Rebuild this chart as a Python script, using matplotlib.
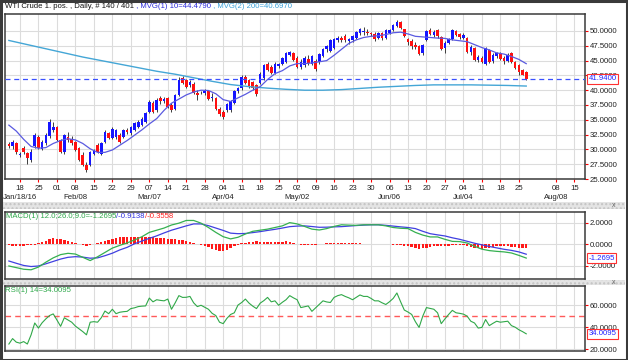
import numpy as np
import matplotlib
matplotlib.use("Agg")
import matplotlib.pyplot as plt
import matplotlib.transforms as mtransforms
from matplotlib.patches import Rectangle

plt.rcParams['font.family'] = ['Liberation Sans', 'DejaVu Sans']

# ---- daily bars, WTI Crude 1. pos. (Jan 13 .. Jul 27 2016, weekdays) ----
opens = [
    30.9, 30.5, 31.1,
    29.0, 30.2, 29.4, 28.2, 30.5,
    32.1, 30.1, 31.0, 32.2, 33.3,
    33.8, 31.6, 29.6, 32.1, 31.8,
    31.3, 30.2, 29.1, 27.4, 27.4,
    29.2, 30.7, 29.3, 31.3, 32.7,
    31.9, 32.1, 32.4, 32.1, 33.2,
    32.7, 33.3, 33.8, 34.1, 34.7,
    36.4, 37.8, 36.6, 38.6, 38.1,
    38.6, 37.5, 36.9, 39.2, 42.0,
    41.7, 40.8, 41.0, 39.6, 39.5,
    39.6, 39.9, 38.7, 38.6, 36.9,
    36.4, 36.6, 36.6, 37.8, 39.8,
    40.3, 42.3, 41.7, 41.4, 40.9,
    41.2, 42.0, 44.5, 44.0, 42.9,
    44.1, 44.5, 44.8, 46.0, 46.2,
    45.5, 44.0, 44.2, 45.3, 44.5,
    45.0, 44.7, 45.8, 46.9, 46.7,
    47.2, 48.4, 48.9, 49.2, 48.3,
    48.4, 48.9, 49.6, 49.8, 49.9,
    49.6, 49.5, 48.8, 49.6, 48.9,
    49.7, 50.2, 50.9, 51.5, 50.3,
    48.6, 48.3, 47.6, 47.4, 46.2,
    48.5, 50.2, 49.4, 50.1, 49.0,
    47.2, 48.0, 48.6, 50.0, 49.5,
    48.9, 48.8, 46.4, 47.1, 45.1,
    45.4, 44.5, 46.8, 44.9, 45.7,
    46.2, 45.5, 45.0, 46.2, 44.8,
    44.2, 43.4, 43.1,
]
highs = [
    31.3, 31.6, 31.3,
    29.5, 30.5, 29.6, 30.0, 32.7,
    32.4, 31.6, 32.7, 35.1, 34.6,
    34.0, 31.8, 32.6, 33.0, 32.2,
    31.5, 30.4, 29.5, 27.8, 29.8,
    30.1, 31.0, 31.2, 33.2, 33.0,
    33.8, 33.5, 32.8, 33.4, 33.6,
    34.0, 34.6, 35.0, 35.4, 36.3,
    38.3, 38.1, 38.6, 39.0, 38.8,
    38.8, 37.8, 39.4, 42.2, 42.4,
    41.9, 41.8, 41.4, 40.1, 39.9,
    40.2, 40.1, 39.6, 38.9, 37.1,
    36.6, 37.9, 38.3, 40.0, 40.5,
    42.5, 42.6, 41.9, 41.6, 41.1,
    43.0, 44.5, 44.8, 44.3, 44.7,
    44.6, 45.6, 46.4, 46.7, 46.5,
    45.8, 45.2, 45.8, 45.9, 46.0,
    45.3, 46.3, 47.2, 47.6, 48.6,
    48.8, 49.2, 49.2, 49.5, 48.9,
    49.3, 50.0, 50.5, 50.6, 50.3,
    49.9, 49.8, 49.9, 49.8, 50.3,
    50.4, 51.2, 51.9, 51.7, 50.4,
    48.9, 48.6, 48.2, 47.6, 47.8,
    50.2, 50.5, 50.2, 50.4, 49.2,
    48.3, 48.8, 50.4, 50.2, 49.7,
    49.6, 49.0, 47.6, 47.3, 45.9,
    45.7, 47.3, 47.0, 46.3, 46.4,
    46.4, 45.8, 46.2, 46.4, 45.0,
    44.5, 43.6, 43.3,
]
lows = [
    30.2, 30.0, 29.3,
    28.8, 29.3, 27.6, 27.9, 30.3,
    30.0, 29.9, 30.7, 31.9, 33.0,
    31.4, 29.4, 29.3, 31.3, 30.8,
    29.7, 28.0, 27.2, 26.1, 27.2,
    29.0, 29.4, 29.0, 31.0, 31.7,
    31.7, 31.8, 31.0, 31.9, 32.6,
    32.5, 33.1, 33.6, 33.9, 34.5,
    36.2, 36.1, 36.3, 37.6, 37.8,
    37.0, 36.4, 36.7, 39.0, 41.0,
    40.4, 40.6, 39.3, 38.4, 39.3,
    39.2, 38.3, 38.2, 36.6, 35.7,
    35.2, 36.3, 36.4, 37.6, 39.5,
    40.1, 41.0, 40.4, 40.1, 39.0,
    41.0, 41.8, 43.2, 42.7, 42.7,
    43.7, 44.3, 44.6, 45.8, 44.9,
    43.7, 43.5, 43.9, 44.2, 44.3,
    43.3, 44.5, 45.6, 46.5, 46.4,
    47.0, 48.1, 48.2, 48.2, 47.8,
    48.2, 48.7, 49.3, 49.4, 49.3,
    49.2, 48.3, 48.6, 48.5, 48.7,
    49.5, 50.0, 50.6, 50.3, 49.0,
    47.6, 47.0, 46.9, 45.9, 46.0,
    48.3, 49.3, 49.0, 48.9, 46.8,
    46.2, 47.8, 48.4, 49.1, 48.7,
    48.7, 46.3, 45.9, 44.9, 44.7,
    44.6, 44.3, 44.6, 44.6, 45.4,
    45.1, 44.5, 44.8, 44.6, 43.5,
    42.5, 42.5, 41.8,
]
closes = [
    30.6, 31.2, 29.6,
    29.2, 29.6, 28.5, 29.6, 32.4,
    30.2, 31.3, 32.4, 34.7, 33.8,
    31.6, 29.6, 32.4, 31.6, 31.0,
    29.9, 28.2, 27.4, 26.5, 29.6,
    29.8, 29.6, 31.0, 33.0, 31.9,
    33.5, 33.2, 31.3, 33.2, 32.9,
    33.8, 34.4, 34.7, 35.2, 36.1,
    38.0, 36.4, 38.3, 38.1, 38.5,
    37.2, 36.6, 39.2, 41.8, 41.2,
    40.6, 41.4, 39.6, 39.2, 39.6,
    39.9, 38.5, 38.9, 36.8, 35.9,
    35.5, 37.7, 38.1, 39.8, 40.3,
    42.3, 41.2, 40.6, 40.3, 39.3,
    42.8, 44.3, 43.4, 42.9, 44.5,
    44.4, 45.4, 46.2, 46.5, 45.1,
    43.9, 44.8, 45.4, 44.6, 45.7,
    43.6, 46.1, 47.0, 47.4, 48.4,
    48.6, 48.9, 48.4, 48.4, 48.6,
    49.2, 49.8, 50.3, 50.0, 49.6,
    49.5, 48.7, 49.6, 48.8, 50.1,
    50.2, 51.0, 51.6, 50.5, 49.2,
    48.2, 47.5, 47.3, 46.1, 47.6,
    50.0, 49.5, 49.9, 49.2, 47.0,
    47.9, 48.6, 50.2, 49.3, 49.0,
    49.3, 46.5, 47.3, 45.1, 45.6,
    44.8, 47.1, 44.8, 45.9, 46.2,
    45.3, 44.9, 45.9, 44.8, 43.7,
    43.0, 42.6, 41.94,
]
last_price = 41.94

# moving averages, read every 2 bars (MVG 10) / every 5 bars (MVG 200)
ma10_bars = list(range(0, 141, 2))
ma10 = [34.1, 33.1, 31.7, 30.5, 30.2, 30.3, 31.0, 31.5, 31.8, 31.6,
        31.0, 30.1, 29.5, 29.5, 29.9, 30.7, 31.5, 32.4, 33.3, 34.3,
        35.2, 36.6, 37.8, 38.5, 39.2, 39.7, 40.0, 39.95, 39.4, 38.4,
        38.1, 38.7, 39.3, 40.0, 40.6, 41.8, 42.8, 43.3, 44.1, 44.5,
        44.5, 44.6, 44.8, 45.0, 45.9, 46.9, 47.9, 48.5, 48.9, 49.1,
        49.2, 49.4, 49.7, 49.8, 49.5, 49.1, 49.0, 48.9, 48.8, 48.75,
        48.5, 48.35, 48.2, 47.7, 47.2, 46.8, 46.3, 46.1, 45.7, 45.2,
        44.48]
ma200_bars = list(range(0, 141, 5))
ma200 = [48.4, 47.7, 47.0, 46.3, 45.6, 45.0, 44.4, 43.8, 43.2, 42.7,
         42.1, 41.5, 40.95, 40.6, 40.35, 40.15, 40.0, 40.0, 40.1, 40.3,
         40.5, 40.65, 40.8, 40.9, 40.9, 40.9, 40.85, 40.8, 40.7]

# MACD(12,26,9): line and signal every 2 bars, histogram every bar
macd_bars = list(range(0, 141, 2))
macd_line = [-2.0, -2.15, -2.3, -2.35, -2.1, -1.65, -1.25, -0.95, -0.83, -0.9,
             -1.2, -1.5, -1.15, -0.75, -0.35, -0.1, 0.13, 0.4, 0.7, 1.1,
             1.3, 1.5, 1.78, 1.95, 2.2, 2.2, 1.95, 1.55, 1.1, 0.7,
             0.5, 0.65, 0.95, 1.2, 1.3, 1.4, 1.55, 1.7, 2.0, 1.88,
             1.65, 1.4, 1.32, 1.45, 1.65, 1.8, 1.77, 1.75, 1.8, 1.8,
             1.8, 1.7, 1.55, 1.48, 1.45, 1.1, 0.85, 0.68, 0.68, 0.46,
             0.27, 0.25, 0.12, -0.18, -0.45, -0.58, -0.65, -0.7, -0.8, -1.02,
             -1.2695]
macd_signal = [-1.54, -1.75, -1.95, -2.05, -2.0, -1.8, -1.58, -1.36, -1.2, -1.14,
               -1.18, -1.28, -1.25, -1.05, -0.82, -0.52, -0.28, 0.05, 0.3, 0.55,
               0.78, 1.05, 1.3, 1.5, 1.7, 1.88, 1.88, 1.72, 1.5, 1.28,
               1.03, 0.98, 1.0, 1.08, 1.17, 1.28, 1.38, 1.5, 1.63, 1.68,
               1.7, 1.64, 1.57, 1.58, 1.61, 1.63, 1.68, 1.73, 1.77, 1.8,
               1.8, 1.75, 1.68, 1.61, 1.55, 1.45, 1.2, 0.98, 0.87, 0.77,
               0.6, 0.46, 0.28, 0.1, -0.05, -0.2, -0.33, -0.46, -0.56, -0.7,
               -0.9138]
macd_hist = [-0.1, -0.12, -0.15, -0.15, -0.12, -0.1, -0.08, -0.05, 0.1, 0.2,
             0.35, 0.5, 0.55, 0.5, 0.45, 0.4, 0.3, 0.25, 0.15, 0.05,
             -0.05, -0.12, -0.1, 0.05, 0.15, 0.2, 0.3, 0.4, 0.5, 0.6,
             0.65, 0.68, 0.7, 0.7, 0.68, 0.7, 0.68, 0.65, 0.7, 0.68,
             0.62, 0.6, 0.55, 0.5, 0.48, 0.45, 0.42, 0.4, 0.32, 0.25,
             0.15, 0.05, -0.05, -0.15, -0.25, -0.4, -0.5, -0.6, -0.62, -0.5,
             -0.35, -0.2, -0.05, 0.08, 0.15, 0.2, 0.25, 0.28, 0.25, 0.22,
             0.2, 0.22, 0.25, 0.22, 0.25, 0.28, 0.25, 0.15, 0.05, -0.05,
             -0.08, -0.1, -0.08, -0.05, 0.0, 0.05, 0.08, 0.1, 0.12, 0.12,
             0.15, 0.12, 0.1, 0.1, 0.08, 0.08, 0.05, 0.05, 0.05, 0.03,
             0.03, 0.02, 0.02, 0.0, -0.02, -0.05, -0.1, -0.15, -0.2, -0.25,
             -0.35, -0.4, -0.35, -0.3, -0.25, -0.2, -0.15, -0.2, -0.2, -0.15,
             -0.1, -0.05, -0.05, -0.1, -0.15, -0.25, -0.3, -0.35, -0.4, -0.35,
             -0.3, -0.25, -0.2, -0.2, -0.18, -0.2, -0.22, -0.25, -0.3, -0.32,
             -0.3558]

# RSI(14), every bar
rsi = [24.8, 29.7, 26.5, 25.6, 27.0, 24.8, 33.0, 43.8, 39.2, 44.0,
       47.5, 50.5, 52.0, 46.5, 40.8, 48.5, 46.5, 44.5, 41.0, 38.5,
       36.0, 33.1, 44.5, 45.0, 44.5, 48.5, 54.6, 52.2, 56.2, 52.2,
       53.5, 54.0, 54.3, 56.8, 57.5, 58.6, 59.0, 59.2, 66.3, 62.9,
       64.8, 64.2, 63.8, 65.4, 56.2, 62.0, 68.5, 66.9, 67.0, 67.8,
       62.0, 58.6, 59.8, 58.0, 56.2, 52.5, 50.5, 44.5, 43.2, 48.0,
       51.5, 53.0, 60.0, 62.3, 65.4, 61.7, 59.0, 56.8, 61.7, 64.0,
       66.9, 62.9, 63.8, 59.8, 62.5, 64.8, 68.5, 66.5, 64.8, 57.7,
       58.5, 59.2, 54.3, 57.5, 60.8, 63.8, 62.8, 62.3, 66.9, 68.5,
       69.4, 67.8, 66.5, 64.8, 67.0, 69.1, 67.8, 67.8, 66.0, 63.8,
       63.8, 62.0, 60.5, 63.0, 66.0, 70.9, 63.0, 55.5, 53.7, 51.5,
       45.0, 39.8, 50.0, 57.7, 57.0, 56.2, 53.0, 43.2, 47.5, 51.5,
       55.2, 53.0, 52.5, 51.8, 50.0, 45.4, 43.8, 39.2, 39.8, 46.9,
       41.4, 43.5, 45.4, 44.5, 45.0, 45.4, 41.4, 40.0, 37.7, 36.0,
       34.0095]

# weekly axis labels (Mondays, one bar per weekday), month labels below
week_bars = [3, 8, 13, 18, 23, 28, 33, 38, 43, 48, 53, 58, 63, 68, 73, 78,
             83, 88, 93, 98, 103, 108, 113, 118, 123, 128, 133, 138, 148, 153]
week_labels = ["18", "25", "01", "08", "15", "22", "29", "07", "14", "21",
               "28", "04", "11", "18", "25", "02", "09", "16", "23", "30",
               "06", "13", "20", "27", "04", "11", "18", "25", "08", "15"]
month_bars = [3, 18, 38, 58, 78, 103, 123, 148]
month_labels = ["Jan/18/16", "Feb/08", "Mar/07", "Apr/04", "May/02",
                "Jun/06", "Jul/04", "Aug/08"]

W, H = 628, 360
FS = 5.6
UP, DOWN = "#1515ff", "#ff1010"
GRID = "#dcdcdc"

fig = plt.figure(figsize=(W / 100, H / 100), dpi=100)
fig.patch.set_facecolor("white")


def panel(left, top, right, bottom):
    a = fig.add_axes([left / W, 1 - bottom / H, (right - left) / W, (bottom - top) / H])
    a.set_facecolor("white")
    for s in a.spines.values():
        s.set_color("#3a3a3a")
        s.set_linewidth(1.1)
    a.yaxis.tick_right()
    a.tick_params(axis="y", direction="out", length=2.5, width=0.8, color="red",
                  labelcolor="#222222", labelsize=FS, pad=1)
    a.set_xlim(-1.05, 155.9)
    a.set_xticks(week_bars)
    a.grid(True, color=GRID, linewidth=0.8)
    a.set_axisbelow(True)
    return a


def value_box(a, y, text):
    tr = mtransforms.blended_transform_factory(a.transAxes, a.transData)
    a.text(1.006, y, text, transform=tr, fontsize=FS, color="#2020ff",
           ha="left", va="center", zorder=10,
           bbox=dict(boxstyle="square,pad=0.18", fc="white", ec="#ff3030", lw=0.8))


def colored_line(x_px, y_px, parts):
    renderer = fig.canvas.get_renderer()
    x = x_px
    for s, c in parts:
        t = fig.text(x / W, 1 - y_px / H, s, color=c, fontsize=FS, ha="left", va="center")
        x += t.get_window_extent(renderer).width


bars = np.arange(len(closes))
o = np.array(opens)
c = np.array(closes)
colors = [UP if cc >= oo else DOWN for oo, cc in zip(o, c)]

# ---- price panel ----
ax = panel(5, 14, 585, 179)
ax.set_ylim(25, 52.87)
ax.set_yticks(np.arange(25, 50.1, 2.5))
ax.yaxis.set_major_formatter(matplotlib.ticker.FormatStrFormatter("%.4f"))
ax.set_xticklabels(week_labels)
ax.tick_params(axis="x", direction="out", length=2.5, width=0.8, color="red",
               labelcolor="#222222", labelsize=FS, pad=1.5)

ax.vlines(bars, lows, highs, color="#3c3c3c", linewidth=0.7, zorder=2)
ax.bar(bars, np.abs(c - o), bottom=np.minimum(o, c), width=0.7, color=colors,
       linewidth=0, zorder=3)
ax.plot(ma200_bars, ma200, color="#44a6d6", linewidth=1.0, zorder=4)
ax.plot(ma10_bars, ma10, color="#5a5ae0", linewidth=0.9, zorder=4)
ax.axhline(last_price, color="#3a50ff", linewidth=0.9, dashes=(4, 3), zorder=4)
value_box(ax, last_price, f"{last_price:.4f}")

lab_tr = mtransforms.blended_transform_factory(ax.transData, ax.transAxes)
for b, lab in zip(month_bars, month_labels):
    ax.text(b, -0.115, lab, transform=lab_tr, fontsize=FS, color="#222222",
            ha="center", va="center", clip_on=False)

# ---- MACD panel ----
ax_m = panel(5, 212, 585, 279)
ax_m.set_ylim(-3.2, 2.98)
ax_m.set_yticks([-2, 0, 2])
ax_m.yaxis.set_major_formatter(matplotlib.ticker.FormatStrFormatter("%.4f"))
ax_m.tick_params(axis="x", length=0, labelbottom=False)
ax_m.bar(bars, macd_hist, width=0.65, color="#ff1a1a", linewidth=0, zorder=2)
ax_m.plot(macd_bars, macd_signal, color="#4040e0", linewidth=0.9, zorder=3)
ax_m.plot(macd_bars, macd_line, color="#35b050", linewidth=0.9, zorder=4)
value_box(ax_m, macd_line[-1], f"{macd_line[-1]:.4f}")

# ---- RSI panel ----
ax_r = panel(5, 286, 585, 351)
ax_r.set_ylim(18.5, 77.2)
ax_r.set_yticks([20, 40, 60])
ax_r.yaxis.set_major_formatter(matplotlib.ticker.FormatStrFormatter("%.4f"))
ax_r.tick_params(axis="x", length=0, labelbottom=False)
ax_r.axhline(50, color="#ff5a5a", linewidth=1.0, dashes=(4, 3), zorder=2)
ax_r.plot(bars, rsi, color="#30a848", linewidth=0.8, zorder=3)
value_box(ax_r, rsi[-1], f"{rsi[-1]:.4f}")

# ---- separators, frame and header texts ----
for top, bottom in [(202, 209), (280, 285)]:
    fig.patches.append(Rectangle((3 / W, 1 - bottom / H), (W - 6) / W, (bottom - top) / H,
                                 transform=fig.transFigure, facecolor="#e4e4e4",
                                 edgecolor="#c4c4c4", hatch="....", linewidth=0))
    fig.text(614 / W, 1 - (top + bottom) / 2 / H, "x", fontsize=5, color="#666666",
             ha="center", va="center")
fig.patches.append(Rectangle((0.5 / W, 0.5 / H), (W - 1.5) / W, (H - 1.5) / H,
                             transform=fig.transFigure, fill=False,
                             edgecolor="#3a3a3a", linewidth=2.2))

colored_line(5, 7, [("WTI Crude 1. pos. , Daily, # 140 / 401", "#111111"),
                    (" , MVG(1) 10=44.4790", "#2a2ad8"),
                    (" , MVG(2) 200=40.6970", "#3aa0d8")])
colored_line(6, 216, [("MACD(1) 12.0;26.0;9.0=-1.2695", "#2ea84a"),
                      ("/-0.9138", "#3030e0"),
                      ("/-0.3558", "#ff2020")])
colored_line(5, 291, [("RSI(1) 14=34.0095", "#2ea84a")])

fig.savefig("out.png", dpi=100)
